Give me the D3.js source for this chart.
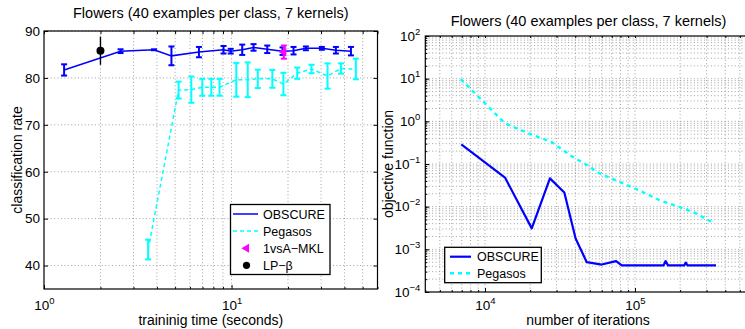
<!DOCTYPE html>
<html>
<meta charset="utf-8">
<style>
  body{margin:0;background:#fff}
  text{font-family:"Liberation Sans",Arial,Helvetica,sans-serif;fill:#000}
  .grid line{stroke:#8a8a8a;stroke-width:0.8;stroke-dasharray:1,2.4}
  .axis path{display:none}
  .axis line{stroke:#000}
  .axis text{font-size:13.5px}
  .box{fill:none;stroke:#000;stroke-width:1.2}
</style>
<body>
<script src="https://cdnjs.cloudflare.com/ajax/libs/d3/7.8.5/d3.min.js"></script>
<script>
// ---- left panel: classification rate vs training time
var obsTime = [1.28, 2.56, 3.86, 4.78, 6.7, 9.06, 9.9, 11.4, 13.1, 15.5, 18.7, 21.4, 24.9, 30.3, 36.0, 43.3]
var obsRate = [81.7, 85.7, 86.0, 84.7, 85.5, 86.0, 85.7, 86.0, 86.5, 86.1, 85.7, 85.8, 86.3, 86.3, 85.9, 85.7]
var obsErr  = [1.2, 0.4, 0.1, 2.0, 1.1, 0.8, 0.5, 1.1, 0.7, 0.8, 0.8, 0.8, 0.4, 0.3, 0.7, 0.9]

var pegTime = [3.59, 5.22, 6.1, 6.98, 7.8, 8.63, 10.6, 12.2, 13.8, 16.5, 18.9, 22.4, 26.7, 32.5, 38.3, 46.0]
var pegRate = [43.4, 77.4, 77.5, 78.0, 78.0, 78.0, 79.6, 79.6, 79.8, 79.8, 78.7, 81.0, 81.9, 80.4, 82.0, 81.9]
var pegErr  = [2.1, 1.8, 2.8, 1.8, 1.8, 1.8, 3.6, 3.7, 1.95, 1.9, 2.4, 1.2, 0.9, 2.7, 1.1, 2.2]

var mklTime = [19.0], mklRate = [85.5], mklErr = [1.4]
var lpbTime = [2.0],  lpbRate = [85.8], lpbErr = [3.0]

var rateTicks = [40, 50, 60, 70, 80, 90]
var timeTicks = [1, 10]

// ---- right panel: objective function vs iterations
var obsIter = [6950, 13600, 20500, 27100, 33800, 40200, 47700, 60000, 74800, 81600, 155000, 160000, 166000, 213000, 218000, 224000, 347000]
var obsObj  = [0.29, 0.048, 0.0031, 0.046, 0.0215, 0.0018, 0.0005, 0.00044, 0.00053, 0.00042, 0.00042, 0.00053, 0.00042, 0.00042, 0.00049, 0.00042, 0.00042]

var pegIter = [6890, 13530, 19270, 27860, 37880, 46880, 58200, 79000, 107000, 146000, 199000, 257000, 331000]
var pegObj  = [9.8, 0.91, 0.53, 0.325, 0.152, 0.099, 0.060, 0.038, 0.024, 0.0141, 0.0098, 0.0069, 0.0042]

var iterTicks = [1e4, 1e5]
var objTicks = [1e-4, 1e-3, 1e-2, 1e-1, 1, 10, 100]

var title = 'Flowers (40 examples per class, 7 kernels)'
var BLUE = '#0000ff', CYAN = '#00ffff', MAG = '#ff00ff'

var svg = d3.select('body').append('svg').attr('width', 745).attr('height', 329)

function pow10(sel, d){
  var t = d3.select(sel).text('')
  var e = Math.round(Math.log10(d))
  t.append('tspan').text('10')
  t.append('tspan').attr('dy', -6).style('font-size', '9.5px').text(e < 0 ? '\u2212' + (-e) : e)
}

function errorbars(g, xs, ys, es, x, y, color, w){
  xs.forEach(function(t, i){
    var cx = x(t)
    g.append('line').attr('x1', cx).attr('x2', cx)
      .attr('y1', y(ys[i] - es[i])).attr('y2', y(ys[i] + es[i]))
      .attr('stroke', color).attr('stroke-width', w)
    ;[ys[i] - es[i], ys[i] + es[i]].forEach(function(v){
      g.append('line').attr('x1', cx - 3).attr('x2', cx + 3)
        .attr('y1', y(v)).attr('y2', y(v)).attr('stroke', color).attr('stroke-width', w)
    })
  })
}

// ================= left panel
var x1 = d3.scaleLog().domain([1, 60]).range([44, 377.5])
var y1 = d3.scaleLinear().domain([35, 90]).range([289, 31])

var gL = svg.append('g')
var grid1 = gL.append('g').attr('class', 'grid')
x1.ticks().filter(function(d){ return d > 1 }).forEach(function(d){
  grid1.append('line').attr('x1', x1(d)).attr('x2', x1(d)).attr('y1', 31).attr('y2', 289)
})
rateTicks.forEach(function(d){
  grid1.append('line').attr('x1', 44).attr('x2', 377.5).attr('y1', y1(d)).attr('y2', y1(d))
})

gL.append('g').attr('class', 'axis').attr('transform', 'translate(44,0)')
  .call(d3.axisLeft(y1).tickValues(rateTicks).tickSizeInner(-4).tickSizeOuter(0).tickPadding(4))
gL.append('g').attr('class', 'axis').attr('transform', 'translate(377.5,0)')
  .call(d3.axisRight(y1).tickValues(rateTicks).tickSizeInner(-4).tickSizeOuter(0).tickFormat(''))
var xa1 = gL.append('g').attr('class', 'axis').attr('transform', 'translate(0,289)')
  .call(d3.axisBottom(x1).tickValues(timeTicks).tickSizeInner(-4).tickSizeOuter(0).tickPadding(11))
xa1.selectAll('text').each(function(d){ pow10(this, d) })
gL.append('g').attr('class', 'axis').attr('transform', 'translate(0,289)')
  .call(d3.axisBottom(x1).tickValues(x1.ticks().filter(function(d){ return timeTicks.indexOf(d) < 0 })).tickSizeInner(-2).tickSizeOuter(0).tickFormat(''))
gL.append('g').attr('class', 'axis').attr('transform', 'translate(0,31)')
  .call(d3.axisTop(x1).tickValues(x1.ticks()).tickSizeInner(-3).tickSizeOuter(0).tickFormat(''))
gL.append('rect').attr('class', 'box').attr('x', 44).attr('y', 31).attr('width', 333.5).attr('height', 258)

var line1 = d3.line().x(function(d){ return x1(d[0]) }).y(function(d){ return y1(d[1]) })
gL.append('path').datum(d3.zip(pegTime, pegRate)).attr('d', line1)
  .attr('fill', 'none').attr('stroke', CYAN).attr('stroke-width', 1.5).attr('stroke-dasharray', '4,3')
errorbars(gL, pegTime, pegRate, pegErr, x1, y1, CYAN, 2)
gL.append('path').datum(d3.zip(obsTime, obsRate)).attr('d', line1)
  .attr('fill', 'none').attr('stroke', BLUE).attr('stroke-width', 1.5)
errorbars(gL, obsTime, obsRate, obsErr, x1, y1, BLUE, 2)

errorbars(gL, mklTime, mklRate, mklErr, x1, y1, MAG, 2)
gL.selectAll('.mkl').data(d3.zip(mklTime, mklRate)).enter().append('path')
  .attr('d', d3.symbol(d3.symbolTriangle, 34)()).attr('fill', MAG)
  .attr('transform', function(d){ return 'translate(' + x1(d[0]) + ',' + y1(d[1]) + ') rotate(-90)' })

lpbTime.forEach(function(t, i){
  gL.append('line').attr('x1', x1(t)).attr('x2', x1(t))
    .attr('y1', y1(lpbRate[i] - lpbErr[i])).attr('y2', y1(lpbRate[i] + lpbErr[i]))
    .attr('stroke', '#000').attr('stroke-width', 1.4)
  gL.append('circle').attr('cx', x1(t)).attr('cy', y1(lpbRate[i])).attr('r', 4).attr('fill', '#000')
})

gL.append('text').attr('x', 210.8).attr('y', 18).attr('text-anchor', 'middle').style('font-size', '14.5px').text(title)
gL.append('text').attr('x', 210.8).attr('y', 324.5).attr('text-anchor', 'middle').style('font-size', '14px').text('traininig time (seconds)')
gL.append('text').attr('transform', 'translate(22,160) rotate(-90)').attr('text-anchor', 'middle').style('font-size', '14px').text('classification rate')

// left legend
var lg1 = gL.append('g')
lg1.append('rect').attr('x', 230.5).attr('y', 204.5).attr('width', 99.5).attr('height', 70)
  .attr('fill', '#fff').attr('stroke', '#000').attr('stroke-width', 1.3)
var leg1 = ['OBSCURE', 'Pegasos', '1vsA\u2212MKL', 'LP\u2212\u03b2']
leg1.forEach(function(name, i){
  var yy = 214 + i * 17.1
  if (i < 2) lg1.append('line').attr('x1', 233).attr('x2', 258).attr('y1', yy).attr('y2', yy)
    .attr('stroke', i ? CYAN : BLUE).attr('stroke-width', 1.5).attr('stroke-dasharray', i ? '4,3' : null)
  if (i == 2) lg1.append('path').attr('d', d3.symbol(d3.symbolTriangle, 34)()).attr('fill', MAG)
    .attr('transform', 'translate(246.5,' + yy + ') rotate(-90)')
  if (i == 3) lg1.append('circle').attr('cx', 246.5).attr('cy', yy).attr('r', 3.6).attr('fill', '#000')
  lg1.append('text').attr('x', 263).attr('y', yy + 4.5).style('font-size', '12.5px').text(name)
})

// ================= right panel
var x2 = d3.scaleLog().domain([4000, 6e5]).range([425.3, 751.7])
var y2 = d3.scaleLog().domain([1e-4, 100]).range([292, 36])

var gR = svg.append('g')
var grid2 = gR.append('g').attr('class', 'grid')
x2.ticks().forEach(function(d){
  if (x2(d) <= 426) return
  grid2.append('line').attr('x1', x2(d)).attr('x2', x2(d)).attr('y1', 36).attr('y2', 292)
})
y2.ticks().forEach(function(d){
  if (y2(d) <= 36.5 || y2(d) >= 291.5) return
  grid2.append('line').attr('x1', 425.3).attr('x2', 751.7).attr('y1', y2(d)).attr('y2', y2(d))
})

var ya2 = gR.append('g').attr('class', 'axis').attr('transform', 'translate(425.3,0)')
  .call(d3.axisLeft(y2).tickValues(objTicks).tickSizeInner(-4).tickSizeOuter(0).tickPadding(5))
ya2.selectAll('text').each(function(d){ pow10(this, d) })
gR.append('g').attr('class', 'axis').attr('transform', 'translate(425.3,0)')
  .call(d3.axisLeft(y2).tickValues(y2.ticks()).tickSizeInner(-2).tickSizeOuter(0).tickFormat(''))
var xa2 = gR.append('g').attr('class', 'axis').attr('transform', 'translate(0,292)')
  .call(d3.axisBottom(x2).tickValues(iterTicks).tickSizeInner(-4).tickSizeOuter(0).tickPadding(8))
xa2.selectAll('text').each(function(d){ pow10(this, d) })
gR.append('g').attr('class', 'axis').attr('transform', 'translate(0,292)')
  .call(d3.axisBottom(x2).tickValues(x2.ticks()).tickSizeInner(-2).tickSizeOuter(0).tickFormat(''))
gR.append('g').attr('class', 'axis').attr('transform', 'translate(0,36)')
  .call(d3.axisTop(x2).tickValues(x2.ticks()).tickSizeInner(-2).tickSizeOuter(0).tickFormat(''))
gR.append('rect').attr('class', 'box').attr('x', 425.3).attr('y', 36).attr('width', 326.4).attr('height', 256)

var line2 = d3.line().x(function(d){ return x2(d[0]) }).y(function(d){ return y2(d[1]) })
gR.append('path').datum(d3.zip(pegIter, pegObj)).attr('d', line2)
  .attr('fill', 'none').attr('stroke', CYAN).attr('stroke-width', 2.4).attr('stroke-dasharray', '4,4')
gR.append('path').datum(d3.zip(obsIter, obsObj)).attr('d', line2)
  .attr('fill', 'none').attr('stroke', BLUE).attr('stroke-width', 2.2).attr('stroke-linejoin', 'round')

gR.append('text').attr('x', 588.5).attr('y', 26).attr('text-anchor', 'middle').style('font-size', '14.5px').text(title)
gR.append('text').attr('x', 588).attr('y', 324.5).attr('text-anchor', 'middle').style('font-size', '14px').text('number of iterations')
gR.append('text').attr('transform', 'translate(393,164) rotate(-90)').attr('text-anchor', 'middle').style('font-size', '14px').text('objective function')

var lg2 = gR.append('g')
lg2.append('rect').attr('x', 444.7).attr('y', 247.3).attr('width', 96.6).attr('height', 35.4)
  .attr('fill', '#fff').attr('stroke', '#000').attr('stroke-width', 1.3)
;['OBSCURE', 'Pegasos'].forEach(function(name, i){
  var yy = 256.7 + i * 16.6
  lg2.append('line').attr('x1', 450).attr('x2', 471).attr('y1', yy).attr('y2', yy)
    .attr('stroke', i ? CYAN : BLUE).attr('stroke-width', i ? 2.4 : 2.2).attr('stroke-dasharray', i ? '4,4' : null)
  lg2.append('text').attr('x', 477).attr('y', yy + 4.5).style('font-size', '12.5px').text(name)
})
</script>
</body>
</html>
